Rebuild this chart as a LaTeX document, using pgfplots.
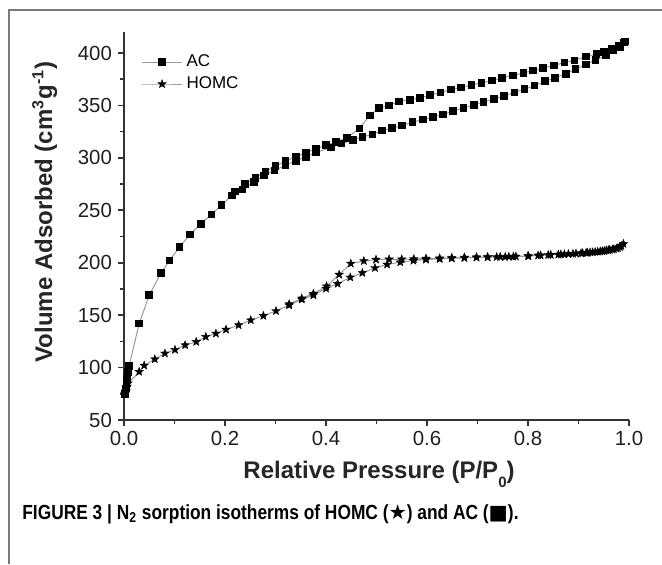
\documentclass[border=0pt]{standalone}
\usepackage{fontspec}
\setmainfont{Liberation Sans}
\newfontfamily\capfont{Liberation Sans}[FakeStretch=0.85]
\newfontfamily\symfont{DejaVu Sans}
\usepackage{pgfplots}
\pgfplotsset{compat=1.18}
\usetikzlibrary{plotmarks}
\definecolor{axisgray}{HTML}{333333}
\definecolor{linegray}{HTML}{9A9A9A}
\definecolor{framegray}{HTML}{7A7A7A}
\pgfdeclareplotmark{fstar}{%
  \pgfpathmoveto{\pgfpointpolar{90}{\pgfplotmarksize}}%
  \pgfpathlineto{\pgfpointpolar{126}{0.42\pgfplotmarksize}}%
  \pgfpathlineto{\pgfpointpolar{162}{\pgfplotmarksize}}%
  \pgfpathlineto{\pgfpointpolar{198}{0.42\pgfplotmarksize}}%
  \pgfpathlineto{\pgfpointpolar{234}{\pgfplotmarksize}}%
  \pgfpathlineto{\pgfpointpolar{270}{0.42\pgfplotmarksize}}%
  \pgfpathlineto{\pgfpointpolar{306}{\pgfplotmarksize}}%
  \pgfpathlineto{\pgfpointpolar{342}{0.42\pgfplotmarksize}}%
  \pgfpathlineto{\pgfpointpolar{18}{\pgfplotmarksize}}%
  \pgfpathlineto{\pgfpointpolar{54}{0.42\pgfplotmarksize}}%
  \pgfpathclose
  \pgfusepathqfillstroke}
\begin{document}
\begin{tikzpicture}
\useasboundingbox (0,0) rectangle (331pt,282pt);
\draw[framegray, line width=0.8pt] (4.5pt,0) -- (4.5pt,277pt) -- (331pt,277pt);
\begin{axis}[
  at={(62pt,72pt)}, anchor=south west,
  scale only axis, width=252.5pt, height=194pt,
  xmin=0, xmax=1, ymin=50, ymax=420,
  axis x line*=bottom, axis y line*=left,
  axis line style={axisgray, line width=1pt},
  every tick/.style={axisgray, line width=0.8pt},
  tick align=outside,
  major tick length=3pt, minor tick length=1.8pt,
  xtick={0,0.2,...,1.0}, minor x tick num=1,
  ytick={50,100,...,400}, minor y tick num=1,
  xticklabel style={/pgf/number format/fixed, /pgf/number format/fixed zerofill, /pgf/number format/precision=1, yshift=1pt},
  /pgf/number format/assume math mode=true,
  tick label style={font=\fontsize{10.2}{12}\selectfont, text=black!88},
  yticklabel style={xshift=0.5pt},
  xlabel={Relative Pressure (P/P\raisebox{-0.38em}{\fontsize{7.5}{8}\selectfont 0})},
  ylabel={Volume Adsorbed (cm\textsuperscript{3}g\textsuperscript{-1})},
  label style={font=\bfseries\fontsize{12}{14}\selectfont, text=black!85},
  xlabel style={at={(axis description cs:0.505,-0.139)}, anchor=center},
  ylabel style={at={(axis description cs:-0.157,0.536)}, anchor=center},
  legend style={draw=none, fill=none, at={(axis description cs:0.03,0.958)}, anchor=north west,
    font=\fontsize{8.5}{10}\selectfont, row sep=-0.5pt, inner sep=1pt},
  legend cell align=left,
  legend image code/.code={\draw[#1, mark repeat=2, mark phase=2] plot coordinates {(0pt,0pt) (10pt,0pt) (20pt,0pt)};},
  clip=false,
]
\addplot[linegray, line width=0.5pt, mark=square*, mark size=1.65pt, mark options={black, solid}] coordinates {
(0.002,75) (0.004,80) (0.005,85) (0.006,89) (0.007,93) (0.008,96) (0.009,99) (0.010,101.5)
(0.030,142) (0.050,169) (0.073,190) (0.090,202) (0.110,215) (0.131,227) (0.152,237)
(0.173,246) (0.193,255) (0.214,264) (0.235,270) (0.257,277) (0.277,283) (0.298,288)
(0.320,293) (0.340,297) (0.360,301) (0.380,305) (0.410,310) (0.431,313.5) (0.453,317)
(0.472,320) (0.492,322.4) (0.511,326) (0.531,328.4) (0.551,330.7) (0.571,334) (0.592,336.4)
(0.612,339) (0.632,341.4) (0.652,344.6) (0.672,347.7) (0.693,350.3) (0.712,353.5) (0.733,356)
(0.753,359) (0.773,362.4) (0.793,365.5) (0.813,369) (0.834,373) (0.854,376.4) (0.875,380.2)
(0.894,384.6) (0.915,389) (0.934,393.4) (0.954,397.6) (0.969,403) (0.982,405.5) (0.992,411)
(0.990,410) (0.980,407) (0.965,404) (0.950,401) (0.936,399) (0.915,396.7) (0.892,393)
(0.872,391) (0.851,388) (0.830,385.9) (0.810,383.3) (0.791,380.8) (0.770,378.6) (0.749,376.4)
(0.729,373.8) (0.708,371.5) (0.688,369.7) (0.667,367) (0.647,365) (0.627,362.4) (0.606,359.8)
(0.586,357.3) (0.566,355.4) (0.545,353.8) (0.525,350) (0.505,347.5) (0.487,340.5) (0.466,328)
(0.441,319) (0.420,315) (0.400,312) (0.380,308.5) (0.360,305) (0.340,301) (0.320,297)
(0.300,292) (0.280,287) (0.260,281) (0.240,275) (0.220,268)
};
\addlegendentry{AC}
\addplot[linegray, line width=0.5pt, mark=fstar, mark size=2.2pt, mark options={black, solid, line width=0.2pt}] coordinates {
(0.002,75) (0.004,78) (0.006,82) (0.008,85) (0.030,96) (0.040,102) (0.061,108) (0.081,113.5)
(0.101,117) (0.121,121.4) (0.143,124.6) (0.162,129.4) (0.182,132.5) (0.202,136.3) (0.227,140.5)
(0.251,145.2) (0.276,149.4) (0.301,154) (0.327,159.5) (0.352,165) (0.375,169) (0.400,175.4)
(0.423,180) (0.448,186) (0.472,190.3) (0.497,195) (0.521,198.3) (0.547,200.5) (0.573,202)
(0.598,203) (0.625,203.6) (0.649,204.2) (0.674,204.6) (0.698,205) (0.720,205.2) (0.738,205.5)
(0.755,205.6) (0.771,205.8) (0.801,206.2) (0.820,207) (0.840,207.4) (0.860,207.8) (0.872,208)
(0.889,208.5) (0.905,209) (0.915,209.5) (0.923,210) (0.933,210.3) (0.943,210.8) (0.951,211.2)
(0.959,212) (0.967,212.6) (0.975,213.5) (0.982,215) (0.989,218)
(0.985,216) (0.978,214) (0.970,213) (0.962,212.3) (0.955,211.8) (0.947,211) (0.938,210.5)
(0.928,210) (0.918,209.5) (0.908,209.2) (0.895,208.8) (0.880,208.3) (0.865,208) (0.845,207.5)
(0.825,207) (0.800,206.5) (0.776,206) (0.762,205.8) (0.745,205.6) (0.720,205.5) (0.698,205.3)
(0.674,205) (0.649,204.6) (0.625,204.3) (0.598,204) (0.574,203.6) (0.550,203.3) (0.525,203.3)
(0.499,203) (0.475,201.7) (0.449,199.2) (0.426,188.7) (0.401,177.6) (0.375,170.5) (0.352,166)
(0.327,160.5)
};
\addlegendentry{HOMC}
\end{axis}
\node[anchor=west, inner sep=0pt, font=\capfont\bfseries\fontsize{10.2}{12}\selectfont] at (11pt,25pt)
  {FIGURE 3 | N\textsubscript{2} sorption isotherms of HOMC ({\symfont\bfseries ★}) and AC ({\symfont ■}).};
\end{tikzpicture}
\end{document}
